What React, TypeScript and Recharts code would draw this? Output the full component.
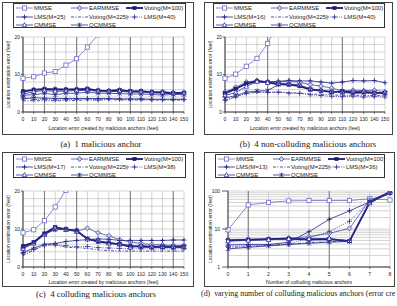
import React from 'react';
import { LineChart, Line, XAxis, YAxis, CartesianGrid, ReferenceLine } from 'recharts';

// ---- x categories ----
const ERROR_FEET = [0, 10, 20, 30, 40, 50, 60, 70, 80, 90, 100, 110, 120, 130, 140, 150];
const COLLUDERS = [0, 1, 2, 3, 4, 5, 6, 7, 8];

// ---- (a) 1 malicious anchor ----
const A_MMSE = [9.0, 9.4, 10.4, 10.8, 12.5, 14.2, 17.3, 20.6, null, null, null, null, null, null, null, null];
const A_EARMMSE = [5.3, 6.0, 6.2, 6.1, 6.0, 6.1, 6.3, 5.8, 5.7, 5.9, 5.6, 5.6, 5.4, 5.4, 5.2, 5.3];
const A_VOTING100 = [5.5, 5.9, 6.1, 6.0, 6.0, 6.0, 6.1, 5.7, 5.6, 5.8, 5.5, 5.5, 5.3, 5.2, 5.0, 5.1];
const A_LMS = [3.5, 3.8, 3.7, 3.6, 3.6, 3.6, 3.6, 3.6, 3.6, 3.5, 3.5, 3.5, 3.4, 3.4, 3.4, 3.4];
const A_VOTING225 = [3.0, 3.0, 3.0, 3.0, 3.0, 3.1, 3.2, 3.2, 3.3, 3.2, 3.2, 3.2, 3.2, 3.2, 3.2, 3.2];
const A_LMS2 = [4.0, 3.3, 3.4, 3.2, 3.3, 3.4, 3.5, 3.2, 3.5, 3.4, 3.3, 3.4, 3.3, 3.3, 3.3, 3.3];
const A_CMMSE = [4.8, 5.4, 5.7, 5.5, 5.6, 5.7, 5.8, 5.5, 5.4, 5.5, 5.3, 5.3, 5.1, 5.1, 5.0, 5.0];
const A_QCMMSE = [4.5, 4.6, 5.0, 4.6, 5.0, 5.0, 5.3, 5.0, 5.0, 4.9, 4.8, 4.8, 4.7, 4.5, 4.7, 4.6];

// ---- (b) 4 non-colluding malicious anchors ----
const B_MMSE = [9.0, 10.1, 12.2, 14.3, 18.3, 24.0, null, null, null, null, null, null, null, null, null, null];
const B_EARMMSE = [5.3, 6.6, 8.0, 8.4, 8.1, 8.0, 8.2, 7.9, 7.3, 6.9, 6.4, 5.6, 5.8, 5.7, 5.8, 5.4];
const B_VOTING100 = [5.0, 6.2, 7.6, 8.2, 7.9, 7.4, 7.3, 6.9, 6.0, 5.7, 5.3, 5.5, 5.2, 5.3, 5.1, 5.0];
const B_LMS = [4.8, 6.0, 7.5, 8.3, 8.0, 8.2, 8.4, 8.3, 8.3, 8.0, 7.7, 8.0, 8.4, 8.3, 8.4, 7.8];
const B_VOTING225 = [2.8, 4.2, 4.9, 5.3, 5.3, 5.3, 5.2, 5.0, 4.8, 4.7, 4.6, 4.4, 4.5, 4.4, 4.4, 4.3];
const B_LMS2 = [3.2, 4.0, 5.0, 5.4, 5.2, 5.3, 5.0, 5.0, 4.6, 4.4, 4.2, 4.1, 4.2, 4.0, 4.1, 4.0];
const B_CMMSE = [4.4, 5.2, 6.8, 8.1, 7.8, 7.6, 7.5, 7.2, 6.2, 5.8, 5.5, 5.3, 5.4, 5.5, 5.2, 5.2];
const B_QCMMSE = [3.7, 4.4, 5.3, 5.6, 5.7, 7.3, 7.4, 7.0, 6.0, 5.6, 5.4, 5.2, 5.0, 5.1, 5.0, 4.9];

// ---- (c) 4 colluding malicious anchors ----
const C_MMSE = [9.0, 9.8, 12.2, 15.8, 20.2, 27.0, null, null, null, null, null, null, null, null, null, null];
const C_EARMMSE = [5.0, 6.4, 8.6, 10.0, 10.0, 9.4, 10.2, 9.0, 8.2, 7.2, 6.6, 6.2, 5.9, 5.8, 5.7, 5.7];
const C_VOTING100 = [5.5, 6.5, 8.8, 10.5, 9.9, 9.6, 7.4, 6.7, 6.3, 6.0, 5.4, 5.5, 5.3, 5.4, 5.3, 5.4];
const C_LMS = [3.8, 5.0, 6.0, 6.2, 6.7, 7.0, 7.2, 7.4, 7.3, 7.0, 7.0, 7.0, 7.0, 7.0, 7.1, 7.1];
const C_VOTING225 = [3.0, 4.4, 5.8, 5.9, 5.2, 5.1, 4.9, 4.5, 4.3, 4.2, 4.2, 4.2, 4.2, 4.2, 4.2, 4.2];
const C_LMS2 = [3.5, 4.6, 5.6, 5.8, 5.6, 5.3, 5.4, 5.1, 5.0, 4.9, 4.8, 4.8, 4.8, 4.8, 4.8, 4.8];
const C_CMMSE = [4.8, 6.2, 8.5, 10.2, 9.8, 9.3, 7.3, 7.0, 6.2, 6.0, 5.2, 5.6, 5.4, 5.3, 5.4, 5.3];
const C_QCMMSE = [5.2, 6.4, 8.7, 9.8, 9.9, 9.5, 7.5, 6.8, 6.5, 6.0, 5.6, 5.2, 5.1, 5.2, 5.1, 5.2];

// ---- (d) varying number of colluding anchors ----
const D_MMSE = [9.5, 43, 50, 55, 56, 56, 56, 63, 58];
const D_EARMMSE = [5.3, 5.4, 5.5, 5.8, 6.3, 7.7, 10.4, 58, 90];
const D_VOTING100 = [5.0, 5.2, 5.4, 5.6, 5.3, 5.4, 4.8, 50, 95];
const D_LMS = [3.8, 3.9, 3.9, 4.5, 8.5, 18, 30, 52, 95];
const D_VOTING225 = [3.3, 3.4, 3.7, 4.0, 4.4, 4.6, 4.9, 55, 85];
const D_LMS2 = [3.5, 3.6, 3.8, 4.0, 5.8, 8.5, 16, 55, 90];
const D_CMMSE = [4.8, 5.0, 5.2, 5.5, 5.5, 5.6, 4.9, 48, 92];
const D_QCMMSE = [3.0, 3.3, 3.6, 3.9, 4.2, 4.5, 4.7, 52, 88];

// ---- axis ticks ----
const LIN_TICKS = [0, 2, 4, 6, 8, 10, 12, 14, 16, 18, 20];
const LIN_LABELS = [0, 10, 20];
const LOG_TICKS = [1, 2, 3, 4, 5, 6, 7, 8, 9, 10, 20, 30, 40, 50, 60, 70, 80, 90, 100];
const LOG_LABELS = [1, 10, 100];

// legend names, row by row
const NAMES_A = ['MMSE', 'EARMMSE', 'Voting(M=100)', 'LMS(M=25)', 'Voting(M=225)', 'LMS(M=40)', 'CMMSE', 'QCMMSE'];
const NAMES_B = ['MMSE', 'EARMMSE', 'Voting(M=100)', 'LMS(M=16)', 'Voting(M=225)', 'LMS(M=40)', 'CMMSE', 'QCMMSE'];
const NAMES_C = ['MMSE', 'EARMMSE', 'Voting(M=100)', 'LMS(M=17)', 'Voting(M=225)', 'LMS(M=38)', 'CMMSE', 'QCMMSE'];
const NAMES_D = ['MMSE', 'EARMMSE', 'Voting(M=100)', 'LMS(M=13)', 'Voting(M=225)', 'LMS(M=36)', 'CMMSE', 'QCMMSE'];

type MarkerKind = 'square' | 'diamond' | 'fsquare' | 'plus' | 'none' | 'triangle' | 'star';

interface SeriesStyle {
  key: string;
  color: string;
  width: number;
  dash?: string;
  marker: MarkerKind;
}

const STYLES: SeriesStyle[] = [
  { key: 'mmse', color: '#6c6cc2', width: 0.8, marker: 'square' },
  { key: 'ear', color: '#4a4aa6', width: 0.8, marker: 'diamond' },
  { key: 'v100', color: '#1a1a72', width: 1.8, marker: 'fsquare' },
  { key: 'lms', color: '#24248a', width: 0.8, marker: 'plus' },
  { key: 'v225', color: '#262684', width: 0.8, dash: '3 1.5 1 1.5', marker: 'none' },
  { key: 'lms2', color: '#3a3a98', width: 0.8, dash: '1 1.2', marker: 'plus' },
  { key: 'cm', color: '#30309c', width: 0.8, marker: 'triangle' },
  { key: 'qc', color: '#28288e', width: 0.8, marker: 'star' },
];

function buildRows(xs: number[], series: (number | null)[][]) {
  return xs.map((x, i) => {
    const row: Record<string, number | null> = { x };
    STYLES.forEach((s, k) => {
      row[s.key] = series[k][i];
    });
    return row;
  });
}

const ROWS_A = buildRows(ERROR_FEET, [A_MMSE, A_EARMMSE, A_VOTING100, A_LMS, A_VOTING225, A_LMS2, A_CMMSE, A_QCMMSE]);
const ROWS_B = buildRows(ERROR_FEET, [B_MMSE, B_EARMMSE, B_VOTING100, B_LMS, B_VOTING225, B_LMS2, B_CMMSE, B_QCMMSE]);
const ROWS_C = buildRows(ERROR_FEET, [C_MMSE, C_EARMMSE, C_VOTING100, C_LMS, C_VOTING225, C_LMS2, C_CMMSE, C_QCMMSE]);
const ROWS_D = buildRows(COLLUDERS, [D_MMSE, D_EARMMSE, D_VOTING100, D_LMS, D_VOTING225, D_LMS2, D_CMMSE, D_QCMMSE]);

function Marker({ cx, cy, kind, color }: { cx: number; cy: number; kind: MarkerKind; color: string }) {
  if (cx == null || cy == null || Number.isNaN(cx) || Number.isNaN(cy)) return <g />;
  const s = 2.1;
  switch (kind) {
    case 'square':
      return <rect x={cx - s} y={cy - s} width={2 * s} height={2 * s} fill="#fff" stroke={color} strokeWidth={0.8} />;
    case 'diamond':
      return (
        <polygon
          points={`${cx},${cy - 2.5} ${cx + 2.5},${cy} ${cx},${cy + 2.5} ${cx - 2.5},${cy}`}
          fill="#c9c9ea"
          stroke={color}
          strokeWidth={0.8}
        />
      );
    case 'fsquare':
      return <rect x={cx - 1.7} y={cy - 1.7} width={3.4} height={3.4} fill={color} stroke={color} strokeWidth={0.5} />;
    case 'plus':
      return (
        <path d={`M${cx - 2.4},${cy}H${cx + 2.4}M${cx},${cy - 2.4}V${cy + 2.4}`} stroke={color} strokeWidth={0.9} fill="none" />
      );
    case 'triangle':
      return (
        <polygon
          points={`${cx},${cy - 2.5} ${cx + 2.3},${cy + 1.7} ${cx - 2.3},${cy + 1.7}`}
          fill="#fff"
          stroke={color}
          strokeWidth={0.8}
        />
      );
    case 'star':
      return (
        <path
          d={`M${cx - 2.1},${cy - 2.1}L${cx + 2.1},${cy + 2.1}M${cx + 2.1},${cy - 2.1}L${cx - 2.1},${cy + 2.1}M${cx},${cy - 2.3}V${cy + 2.3}`}
          stroke={color}
          strokeWidth={0.8}
          fill="none"
        />
      );
    default:
      return <g />;
  }
}

function LegendBox({ left, top, width, height, names, rowY }: {
  left: number; top: number; width: number; height: number; names: string[]; rowY: number[];
}) {
  const colX = [2, 57, 112];
  return (
    <div
      style={{
        position: 'absolute', left, top, width, height, boxSizing: 'border-box',
        border: '1px solid #333', background: '#fff',
      }}
    >
      {STYLES.map((s, i) => {
        const r = Math.floor(i / 3);
        const c = i % 3;
        return (
          <div
            key={s.key}
            style={{
              position: 'absolute', left: colX[c], top: rowY[r] - 4, height: 8,
              display: 'flex', alignItems: 'center', whiteSpace: 'nowrap',
            }}
          >
            <svg width={17} height={8} style={{ display: 'block' }}>
              <line x1={0} x2={17} y1={4} y2={4} stroke={s.color} strokeWidth={s.width} strokeDasharray={s.dash} />
              <Marker cx={8.5} cy={4} kind={s.marker} color={s.color} />
            </svg>
            <span style={{ fontSize: 6, color: '#222', marginLeft: 1, lineHeight: '8px' }}>{names[i]}</span>
          </div>
        );
      })}
    </div>
  );
}

interface PanelSpec {
  frame: { left: number; top: number; width: number; height: number };
  legend: { left: number; top: number; width: number; height: number; rowY: number[] };
  chart: { left: number; top: number; width: number; height: number; mTop: number; mRight: number; yW: number; xH: number };
  names: string[];
  rows: Record<string, number | null>[];
  xTicks: number[];
  xDomain: [number, number];
  log: boolean;
  darkX: number[];
  xTitle: string;
  yTitleOffset: number;
  xTitleOffset: number;
  yTickSize: number;
  yTickMargin: number;
}

function Panel({ spec }: { spec: PanelSpec }) {
  const { frame, legend, chart } = spec;
  const yTicks = spec.log ? LOG_TICKS : LIN_TICKS;
  const yLabels = spec.log ? LOG_LABELS : LIN_LABELS;
  const yDomain: [number, number] = spec.log ? [1, 100] : [0, 20];

  const yTick = (p: any) => {
    const v = p.payload.value;
    if (!yLabels.includes(v)) return <g key={`t${v}`} />;
    return (
      <g key={`t${v}`}>
        <line
          x1={p.x + spec.yTickMargin}
          x2={p.x + spec.yTickMargin + spec.yTickSize}
          y1={p.y}
          y2={p.y}
          stroke="#333"
          strokeWidth={0.8}
        />
        <text x={p.x} y={p.y} dy="0.35em" textAnchor="end" fontSize={5} fill="#222">
          {v}
        </text>
      </g>
    );
  };

  return (
    <>
      <div
        style={{
          position: 'absolute', left: frame.left, top: frame.top, width: frame.width, height: frame.height,
          boxSizing: 'border-box', border: '1px solid #444',
        }}
      />
      <div style={{ position: 'absolute', left: chart.left, top: chart.top }}>
        <LineChart
          width={chart.width}
          height={chart.height}
          data={spec.rows}
          margin={{ top: chart.mTop, right: chart.mRight, bottom: 0, left: 0 }}
        >
          <CartesianGrid stroke="#c2c2c2" strokeWidth={0.7} />
          {spec.darkX.map((v) => (
            <ReferenceLine key={`r${v}`} x={v} stroke="#7a7a7a" strokeWidth={1} />
          ))}
          <XAxis
            dataKey="x"
            type="number"
            domain={spec.xDomain}
            ticks={spec.xTicks}
            interval={0}
            height={chart.xH}
            tickSize={2}
            tickMargin={3}
            tick={{ fontSize: 5, fill: '#222' }}
            tickLine={{ stroke: '#444', strokeWidth: 0.7 }}
            axisLine={{ stroke: '#222', strokeWidth: 0.9 }}
            label={{
              value: spec.xTitle,
              position: 'insideBottom',
              offset: spec.xTitleOffset,
              fontSize: 5,
              fill: '#222',
              style: { fontSize: 5, fill: '#222' },
            }}
          />
          <YAxis
            type="number"
            scale={spec.log ? 'log' : 'linear'}
            domain={yDomain}
            allowDataOverflow
            ticks={yTicks}
            interval={0}
            width={chart.yW}
            tickSize={spec.yTickSize}
            tickMargin={spec.yTickMargin}
            tickLine={false}
            tick={yTick}
            axisLine={{ stroke: '#222', strokeWidth: 0.9 }}
            label={{
              value: 'Location estimation error (feet)',
              angle: -90,
              position: 'insideLeft',
              offset: spec.yTitleOffset,
              fontSize: 5,
              fill: '#222',
              style: { textAnchor: 'middle', fontSize: 5, fill: '#222' },
            }}
          />
          {STYLES.map((s) => (
            <Line
              key={s.key}
              type="linear"
              dataKey={s.key}
              stroke={s.color}
              strokeWidth={s.width}
              strokeDasharray={s.dash}
              connectNulls={false}
              activeDot={false}
              isAnimationActive={false}
              dot={(p: any) => (
                <Marker key={`${s.key}-${p.index}`} cx={p.cx} cy={p.cy} kind={s.marker} color={s.color} />
              )}
            />
          ))}
        </LineChart>
      </div>
      <LegendBox {...legend} names={spec.names} />
    </>
  );
}

const X_TITLE_ERR = 'Location error created by malicious anchors (feet)';
const X_TITLE_NUM = 'Number of colluding malicious anchors';

const PANELS: PanelSpec[] = [
  {
    frame: { left: 2, top: 2, width: 192, height: 133 },
    legend: { left: 13, top: 3, width: 173, height: 25, rowY: [4, 13, 21] },
    chart: { left: 0, top: 30, width: 194, height: 105, mTop: 7, mRight: 10, yW: 23, xH: 23 },
    names: NAMES_A, rows: ROWS_A, xTicks: ERROR_FEET, xDomain: [0, 150], log: false,
    darkX: [20, 50, 100, 140], xTitle: X_TITLE_ERR, yTitleOffset: 8, xTitleOffset: 5, yTickSize: 2, yTickMargin: 1,
  },
  {
    frame: { left: 204, top: 2, width: 189, height: 133 },
    legend: { left: 213, top: 3, width: 172, height: 25, rowY: [4, 13, 21] },
    chart: { left: 200, top: 30, width: 193, height: 105, mTop: 7, mRight: 8, yW: 25, xH: 23 },
    names: NAMES_B, rows: ROWS_B, xTicks: ERROR_FEET, xDomain: [0, 150], log: false,
    darkX: [40, 110], xTitle: X_TITLE_ERR, yTitleOffset: 10, xTitleOffset: 5, yTickSize: 2, yTickMargin: 1,
  },
  {
    frame: { left: 2, top: 152, width: 192, height: 135 },
    legend: { left: 13, top: 154, width: 173, height: 24, rowY: [3.5, 12, 20] },
    chart: { left: 0, top: 180, width: 194, height: 107, mTop: 11, mRight: 10, yW: 23, xH: 20 },
    names: NAMES_C, rows: ROWS_C, xTicks: ERROR_FEET, xDomain: [0, 150], log: false,
    darkX: [20, 50, 100, 140], xTitle: X_TITLE_ERR, yTitleOffset: 8, xTitleOffset: 3, yTickSize: 2, yTickMargin: 1,
  },
  {
    frame: { left: 204, top: 152, width: 191, height: 135 },
    legend: { left: 215, top: 154, width: 170, height: 24, rowY: [3.5, 12, 20] },
    chart: { left: 200, top: 180, width: 195, height: 107, mTop: 11, mRight: 5, yW: 28, xH: 20 },
    names: NAMES_D, rows: ROWS_D, xTicks: COLLUDERS, xDomain: [0, 8], log: true,
    darkX: [1, 5], xTitle: X_TITLE_NUM, yTitleOffset: 10, xTitleOffset: 3, yTickSize: 6, yTickMargin: 2,
  },
];

const CAPTIONS = [
  { text: '(a)  1 malicious anchor', left: 0, width: 202, top: 138, align: 'center' as const, size: 8.8 },
  { text: '(b)  4 non-colluding malicious anchors', left: 208, width: 200, top: 138, align: 'center' as const, size: 8.8 },
  { text: '(c)  4 colluding malicious anchors', left: 0, width: 192, top: 288, align: 'center' as const, size: 8.8 },
  { text: '(d)  varying number of colluding malicious anchors (error cre', left: 201, width: 196, top: 288, align: 'left' as const, size: 7.9 },
];

export default function App() {
  return (
    <div
      style={{
        position: 'absolute', left: 0, top: 0, width: 397, height: 306, overflow: 'hidden',
        background: '#fff', fontFamily: '"Liberation Sans", Arial, sans-serif',
      }}
    >
      {PANELS.map((p, i) => (
        <Panel key={i} spec={p} />
      ))}
      {CAPTIONS.map((c, i) => (
        <div
          key={i}
          style={{
            position: 'absolute', left: c.left, top: c.top, width: c.width, height: 12,
            textAlign: c.align, whiteSpace: 'pre', fontFamily: '"Liberation Serif", "Times New Roman", serif',
            fontSize: c.size, lineHeight: '12px', color: '#222',
          }}
        >
          {c.text}
        </div>
      ))}
    </div>
  );
}
